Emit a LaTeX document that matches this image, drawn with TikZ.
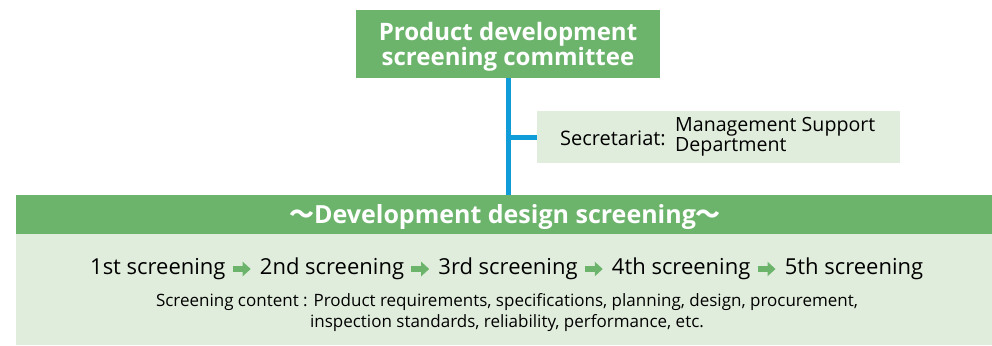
\documentclass[tikz,border=0pt]{standalone}
\usepackage{fontspec}
\setmainfont{Open Sans}
\newfontfamily\cjk{Noto Sans CJK JP}
\usetikzlibrary{positioning,arrows.meta}

\definecolor{boxgreen}{HTML}{6CB46C}
\definecolor{palegreen}{HTML}{E1EDDC}
\definecolor{linkblue}{HTML}{109BD9}

\begin{document}
\begin{tikzpicture}[x=1pt,y=-1pt,
  head/.style={fill=boxgreen,inner sep=0pt},
  headtext/.style={text=white,inner sep=0pt,align=center,
    font=\bfseries\fontsize{24}{25}\selectfont},
  pale/.style={fill=palegreen,inner sep=0pt},
  stage/.style={inner sep=0pt,font=\fontsize{22}{24}\selectfont},
  link/.style={draw=linkblue,line width=5pt},
  next/.style={draw=boxgreen,line width=6pt,shorten <=7pt,shorten >=9pt,
    -{Triangle[width=14pt,length=8pt]}},
  node distance=34pt]
  \useasboundingbox (0,0) rectangle (992,345);

  % committee and secretariat
  \node[head,minimum width=304pt,minimum height=68pt] (committee) at (508,44) {};
  \node[headtext] (committeetext) at (508,47) {Product development\\screening committee};
  \node[pale,minimum width=363pt,minimum height=52pt] (secr) at (718.5,137) {};
  \node[anchor=west,inner sep=0pt,font=\fontsize{20}{20}\selectfont] (secrlabel) at (560,138) {Secretariat:};
  \node[anchor=west,align=left,inner sep=0pt,font=\fontsize{19.6}{20}\selectfont] (secrname) at (675,137)
    {Management Support\\Department};

  % screening stages
  \node[pale,minimum width=976pt,minimum height=111pt] (body) at (504,289.5) {};
  \node[head,minimum width=976pt,minimum height=39pt] (bar) at (504,214.5) {};
  \node[headtext,font=\bfseries\fontsize{25}{27}\selectfont] (bartext) at (505,217.5)
    {{\cjk 〜}Development design screening{\cjk 〜}};

  \node[stage] (s3) at (508,269) {3rd screening};
  \node[stage,left=of s3] (s2) {2nd screening};
  \node[stage,left=of s2] (s1) {1st screening};
  \node[stage,right=of s3] (s4) {4th screening};
  \node[stage,right=of s4] (s5) {5th screening};
  \foreach \a/\b in {s1/s2,s2/s3,s3/s4,s4/s5}
    \draw[next] (\a) -- (\b);

  \node[align=center,inner sep=0pt,font=\fontsize{17}{21.5}\selectfont] (content) at (507,312.5)
    {Screening content : Product requirements, specifications, planning, design, procurement,\\
     inspection standards, reliability, performance, etc.};

  % connectors
  \draw[link] (committee.south) -- (bar.north -| committee.south);
  \draw[link] (secr.west) -- (secr.west -| committee.south);
\end{tikzpicture}
\end{document}
